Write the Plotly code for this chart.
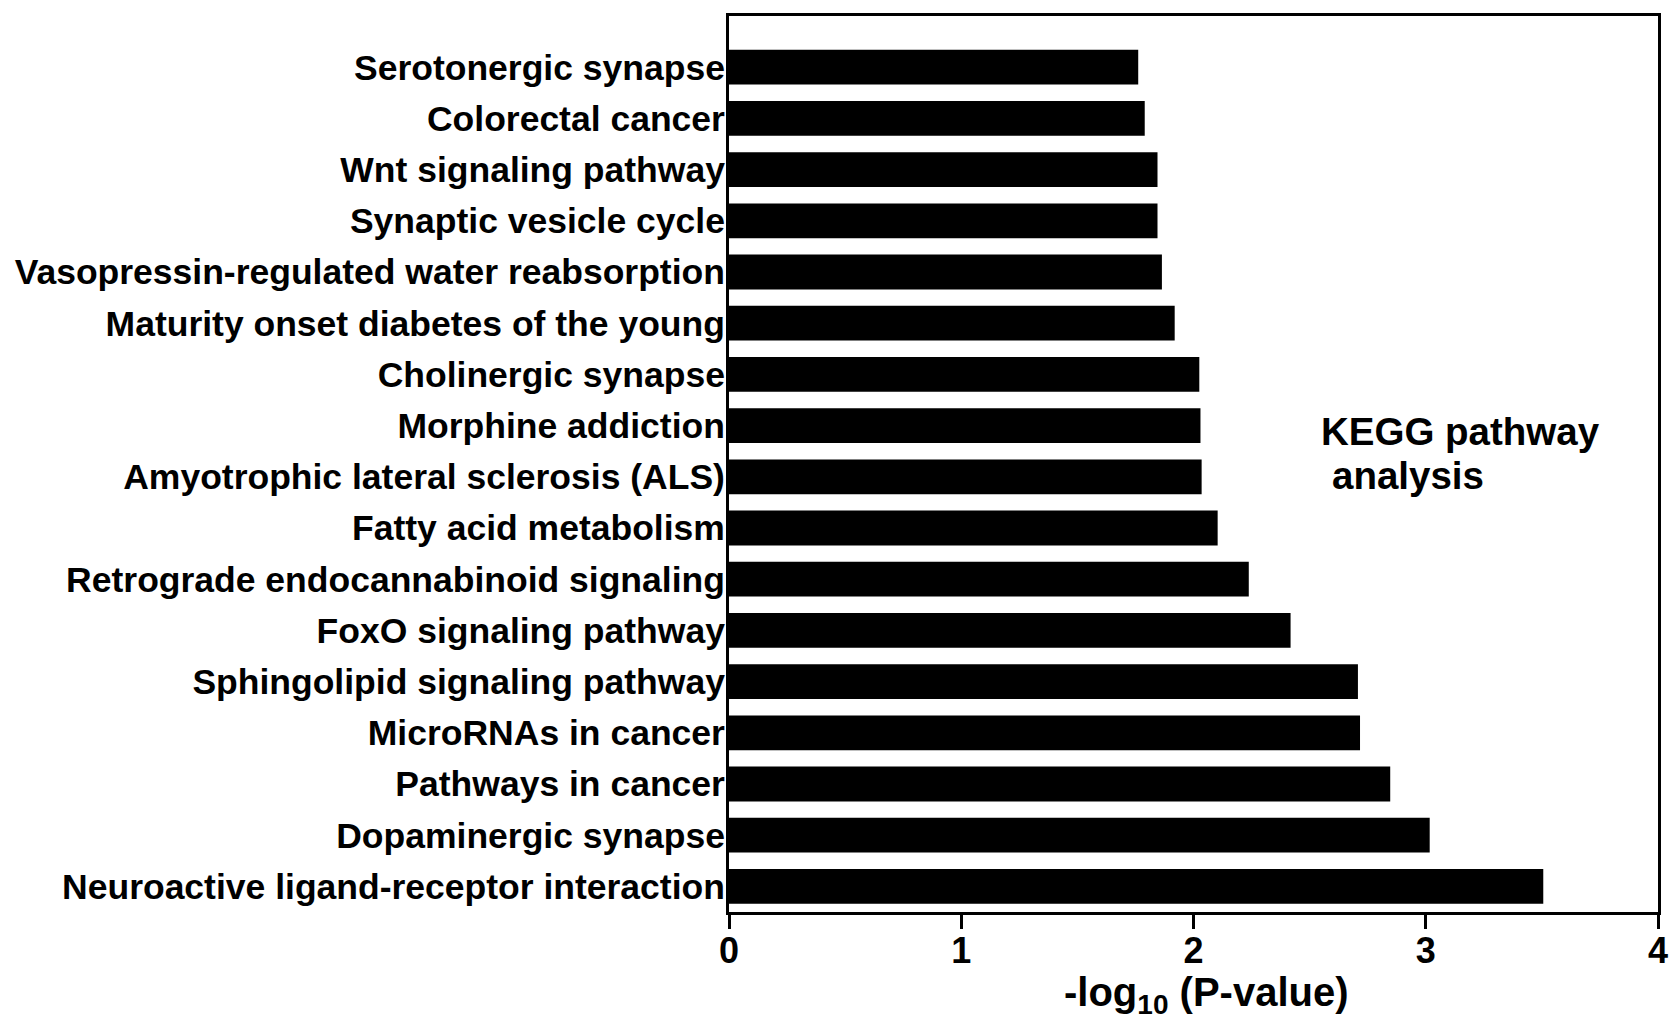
import plotly.graph_objects as go

pathways = [
    "Neuroactive ligand-receptor interaction",
    "Dopaminergic synapse",
    "Pathways in cancer",
    "MicroRNAs in cancer",
    "Sphingolipid signaling pathway",
    "FoxO signaling pathway",
    "Retrograde endocannabinoid signaling",
    "Fatty acid metabolism",
    "Amyotrophic lateral sclerosis (ALS)",
    "Morphine addiction",
    "Cholinergic synapse",
    "Maturity onset diabetes of the young",
    "Vasopressin-regulated water reabsorption",
    "Synaptic vesicle cycle",
    "Wnt signaling pathway",
    "Colorectal cancer",
    "Serotonergic synapse",
]
neg_log10_p = [3.506, 3.017, 2.847, 2.717, 2.708, 2.418, 2.238, 2.104, 2.035,
               2.030, 2.025, 1.919, 1.864, 1.845, 1.845, 1.790, 1.762]
x_ticks = [0, 1, 2, 3, 4]
x_title = "-log<sub>10</sub> (P-value)"

FONT = "Liberation Sans, Arial, Helvetica, sans-serif"

fig = go.Figure()
fig.add_trace(go.Bar(
    x=neg_log10_p,
    y=pathways,
    orientation="h",
    width=0.68,
    marker=dict(color="#000000", line=dict(color="#000000", width=0)),
    showlegend=False,
))

fig.update_layout(
    width=1677,
    height=1030,
    paper_bgcolor="white",
    plot_bgcolor="white",
    margin=dict(l=721, r=27, t=8, b=126, autoexpand=False),
    font=dict(family=FONT, size=35, color="black"),
)

fig.update_xaxes(
    range=[0, 4],
    tickvals=x_ticks,
    ticktext=[str(v) for v in x_ticks],
    ticks="outside",
    ticklen=14,
    tickwidth=3,
    tickcolor="black",
    showline=True,
    linewidth=3,
    linecolor="black",
    mirror=True,
    showgrid=False,
    zeroline=False,
    ticklabelstandoff=-9,
    tickfont=dict(family=FONT, size=36, color="black", weight="bold"),
)

fig.update_yaxes(
    type="category",
    categoryorder="array",
    categoryarray=pathways,
    range=[-0.5, 17],
    ticks="",
    showline=True,
    linewidth=3,
    linecolor="black",
    mirror=True,
    showgrid=False,
    zeroline=False,
    ticklabelstandoff=-6,
    tickfont=dict(family=FONT, size=35.5, color="black", weight="bold"),
)

# x-axis title placed as paper annotation to match reference offset
fig.add_annotation(
    xref="paper", yref="paper",
    x=0.5144, y=-0.0929,
    xanchor="center", yanchor="middle",
    text=x_title,
    showarrow=False,
    font=dict(family=FONT, size=40, color="black", weight="bold"),
)

fig.add_annotation(
    xref="paper", yref="paper",
    x=0.635, y=0.5365,
    xanchor="left", yanchor="middle",
    text="KEGG pathway",
    showarrow=False,
    font=dict(family=FONT, size=38.5, color="black", weight="bold"),
)
fig.add_annotation(
    xref="paper", yref="paper",
    x=0.647, y=0.4869,
    xanchor="left", yanchor="middle",
    text="analysis",
    showarrow=False,
    font=dict(family=FONT, size=38.5, color="black", weight="bold"),
)

fig.write_html("out.html")
